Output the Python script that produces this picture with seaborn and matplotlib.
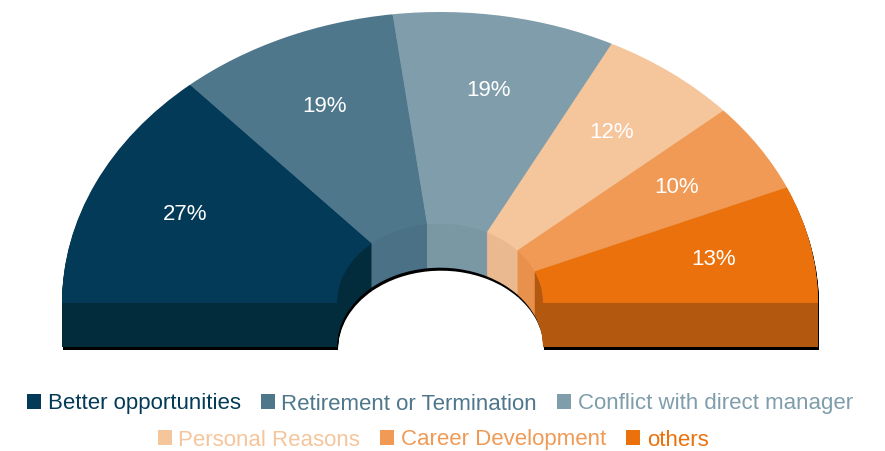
import numpy as np
import matplotlib
matplotlib.use("Agg")
import matplotlib.pyplot as plt
from matplotlib.patches import Patch
import seaborn as sns

# ---- data ----
categories = ["Better opportunities", "Retirement or Termination",
              "Conflict with direct manager", "Personal Reasons",
              "Career Development", "others"]
values = [27, 19, 19, 12, 10, 13]
pct_labels = ["27%", "19%", "19%", "12%", "10%", "13%"]
top_colors = ["#033a57", "#4e778c", "#7f9dab", "#f5c59b", "#f09a55", "#eb710c"]
side_colors = ["#022c3b", "#4a7186", "#7a97a4", "#eab990", "#e8914d", "#b3590f"]

sns.set_theme(style="white")
plt.rcParams["font.family"] = ["Liberation Sans", "DejaVu Sans"]

W, H = 885, 451
fig = plt.figure(figsize=(W / 100, H / 100), dpi=100)
ax = fig.add_axes([0, 0, 1, 1])

# pixel geometry of the half ring
cx, cy = 440, 303          # center in px (top-left origin)
rx, ry = 378, 291          # outer radii in px
inner = 103 / rx           # inner radius fraction
depth_px = 44

def px2y(p):
    return (cy - p) / ry

xlim = (-cx / rx, (W - cx) / rx)
ylim = (px2y(H), px2y(0))

hidden = sum(values)
vals_full = values + [hidden]

def draw_ring(dy, colors, dx=0.0, z=1):
    cols = list(colors) + ["none"]
    wedges, _ = ax.pie(vals_full, colors=cols, startangle=180, counterclock=False,
                       radius=1.0, center=(dx, dy),
                       wedgeprops=dict(width=1 - inner, linewidth=0, zorder=z))
    wedges[-1].set_visible(False)
    return wedges

# black shadow layer
for d in np.arange(0, depth_px + 1, 1.0):
    draw_ring(-(d + 3) / ry, ["#000000"] * 6, dx=1.0 / rx, z=0)
# side sweep
for d in np.arange(depth_px, 0, -1.0):
    draw_ring(-d / ry, side_colors, z=1)
# top surface
top = draw_ring(0.0, top_colors, z=2)

# percentage labels
r_lab = 0.74
for w, lab in zip(top[:-1], pct_labels):
    ang = np.deg2rad((w.theta1 + w.theta2) / 2)
    ax.text(r_lab * np.cos(ang), r_lab * np.sin(ang), lab, ha="center", va="center",
            color="white", fontsize=16, zorder=5)

ax.set_aspect("auto")
ax.set_xlim(*xlim)
ax.set_ylim(*ylim)
ax.axis("off")

# legends (two centred rows)
handles = [Patch(facecolor=c, edgecolor="none") for c in top_colors]
common = dict(loc="center", frameon=False, fontsize=16, handlelength=0.63,
              handleheight=0.63, handletextpad=0.3, columnspacing=0.9,
              borderpad=0, borderaxespad=0)
leg1 = fig.legend(handles[:3], categories[:3], ncol=3,
                  bbox_to_anchor=(440 / W, 1 - 404 / H),
                  labelcolor=top_colors[:3], **common)
leg2 = fig.legend(handles[3:], categories[3:], ncol=3,
                  bbox_to_anchor=(433 / W, 1 - 440 / H),
                  labelcolor=top_colors[3:], **common)

fig.savefig("out.png", dpi=100, facecolor="white")
